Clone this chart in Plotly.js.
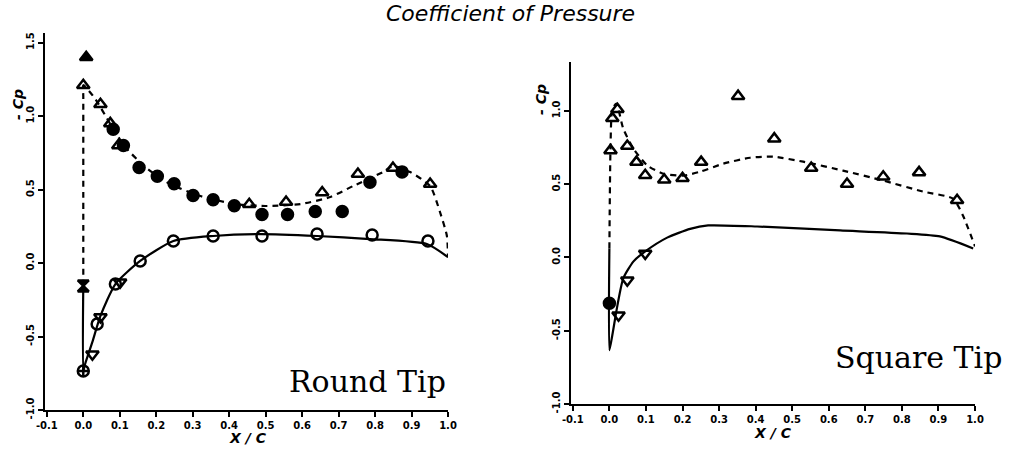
<!DOCTYPE html>
<html><head><meta charset="utf-8">
<script src="https://cdn.plot.ly/plotly-3.0.1.min.js"></script>
<style>body{margin:0;background:#fff}#c{width:1026px;height:456px}</style>
</head><body><div id="c"></div>
<script>
// ---------- Round Tip (left) ----------
const rUpperCurveX = [0,0,0,0.033,0.074,0.115,0.170,0.238,0.321,0.416,0.499,0.595,0.677,0.740,0.822,0.849,0.896,0.951,0.978,0.997,1.0];
const rUpperCurveY = [-0.156,1.136,1.21,1.116,0.946,0.789,0.653,0.537,0.456,0.401,0.388,0.401,0.449,0.524,0.619,0.660,0.619,0.524,0.347,0.184,0.04];
const rLowerCurveX = [0,0,0.005,0.025,0.047,0.088,0.156,0.247,0.356,0.485,0.641,0.786,0.942,1.0];
const rLowerCurveY = [-0.156,-0.735,-0.687,-0.537,-0.36,-0.143,0.014,0.15,0.184,0.197,0.184,0.163,0.129,0.04];
const rTriOpenX = [0.0,0.047,0.074,0.096,0.455,0.556,0.655,0.753,0.849,0.951];
const rTriOpenY = [1.21,1.08,0.95,0.80,0.40,0.415,0.48,0.605,0.646,0.537];
const rTriFilledX = [0.008];
const rTriFilledY = [1.40];
const rDotX = [0.082,0.110,0.153,0.203,0.249,0.301,0.356,0.414,0.49,0.56,0.636,0.71,0.786,0.874];
const rDotY = [0.91,0.80,0.65,0.59,0.54,0.46,0.43,0.39,0.33,0.33,0.35,0.35,0.55,0.62];
const rCircX = [0.038,0.088,0.156,0.247,0.356,0.49,0.641,0.792,0.945];
const rCircY = [-0.415,-0.143,0.014,0.15,0.184,0.184,0.197,0.19,0.15];
const rCrossCircX = [0.0];
const rCrossCircY = [-0.735];
const rTriDownX = [0.025,0.047,0.101];
const rTriDownY = [-0.62,-0.367,-0.13];
const rHourX = [0.0];
const rHourY = [-0.156];

// ---------- Square Tip (right) ----------
const sUpperCurveX = [0,0.003,0.008,0.019,0.038,0.066,0.104,0.148,0.202,0.249,0.311,0.385,0.448,0.530,0.639,0.749,0.858,0.940,0.967,1.0];
const sUpperCurveY = [0.061,0.741,1.01,1.05,0.878,0.741,0.626,0.571,0.558,0.585,0.639,0.680,0.687,0.653,0.592,0.524,0.449,0.401,0.286,0.075];
const sLowerCurveX = [0,0,0.008,0.022,0.038,0.066,0.098,0.158,0.221,0.27,0.404,0.631,0.814,0.904,0.995];
const sLowerCurveY = [0.061,-0.633,-0.531,-0.327,-0.143,-0.027,0.041,0.135,0.195,0.218,0.211,0.184,0.163,0.143,0.061];
const sTriOpenX = [0.022,0.008,0.003,0.049,0.074,0.098,0.15,0.2,0.251,0.352,0.451,0.552,0.65,0.749,0.847,0.951];
const sTriOpenY = [1.01,0.95,0.73,0.76,0.65,0.56,0.53,0.54,0.65,1.10,0.81,0.61,0.50,0.55,0.58,0.39];
const sTriDownX = [0.098,0.049,0.025];
const sTriDownY = [0.027,-0.156,-0.395];
const sDotX = [0.0];
const sDotY = [-0.313];

const xTickVals = [-0.1,0.0,0.1,0.2,0.3,0.4,0.5,0.6,0.7,0.8,0.9,1.0];
const xTickText = ["-0.1","0.0","0.1","0.2","0.3","0.4","0.5","0.6","0.7","0.8","0.9","1.0"];
const yTickValsL = [-1.0,-0.5,0.0,0.5,1.0,1.5];
const yTickTextL = ["-1.0","-0.5","0.0","0.5","1.0","1.5"];
const yTickValsR = [-1.0,-0.5,0.0,0.5,1.0];
const yTickTextR = ["-1.0","-0.5","0.0","0.5","1.0"];

const dashLine = {color:'#000', width:2.2, dash:'6px,5px'};
const solidLine = {color:'#000', width:2.2};
function mk(x,y,sym,xa,ya,filled){
  return {x:x,y:y,xaxis:xa,yaxis:ya,type:'scatter',mode:'markers',showlegend:false,
    marker:{symbol:sym,size:11,color:filled?'#000':'rgba(0,0,0,0)',line:{color:'#000',width:2.5}}};
}
const traces = [
  {x:rUpperCurveX,y:rUpperCurveY,type:'scatter',mode:'lines',line:Object.assign({shape:'spline',smoothing:0.6},dashLine),xaxis:'x',yaxis:'y',showlegend:false},
  {x:rLowerCurveX,y:rLowerCurveY,type:'scatter',mode:'lines',line:Object.assign({shape:'spline',smoothing:0.6},solidLine),xaxis:'x',yaxis:'y',showlegend:false},
  mk(rTriOpenX,rTriOpenY,'triangle-up','x','y',false),
  mk(rTriFilledX,rTriFilledY,'triangle-up','x','y',true),
  mk(rDotX,rDotY,'circle','x','y',true),
  mk(rCircX,rCircY,'circle','x','y',false),
  mk(rCrossCircX,rCrossCircY,'circle-cross','x','y',false),
  mk(rTriDownX,rTriDownY,'triangle-down','x','y',false),
  mk(rHourX,rHourY,'hourglass','x','y',true),
  {x:sUpperCurveX,y:sUpperCurveY,type:'scatter',mode:'lines',line:Object.assign({shape:'spline',smoothing:0.6},dashLine),xaxis:'x2',yaxis:'y2',showlegend:false},
  {x:sLowerCurveX,y:sLowerCurveY,type:'scatter',mode:'lines',line:Object.assign({shape:'spline',smoothing:0.6},solidLine),xaxis:'x2',yaxis:'y2',showlegend:false},
  mk(sTriOpenX,sTriOpenY,'triangle-up','x2','y2',false),
  mk(sTriDownX,sTriDownY,'triangle-down','x2','y2',false),
  mk(sDotX,sDotY,'circle','x2','y2',true)
];
const tickFont = {family:'DejaVu Sans', size:10, color:'#000', weight:'bold'};
function xax(dom){return {domain:dom,range:[-0.105,1.0],tickvals:xTickVals,ticktext:xTickText,ticks:'outside',ticklen:5,tickwidth:2,tickcolor:'#000',showline:true,linewidth:2,linecolor:'#000',showgrid:false,zeroline:false,tickfont:tickFont,fixedrange:true};}
function yax(dom,rng,tv,tt,anchor){return {domain:dom,range:rng,tickvals:tv,ticktext:tt,ticks:'outside',ticklen:5,tickwidth:2,tickcolor:'#000',showline:true,linewidth:2,linecolor:'#000',showgrid:false,zeroline:false,tickfont:tickFont,tickangle:-90,anchor:anchor,fixedrange:true};}
const lblFont = {family:'DejaVu Sans',size:14,color:'#000',weight:'bold',style:'italic'};
const layout = {
  width:1026,height:456,margin:{l:0,r:0,t:0,b:0},paper_bgcolor:'#fff',plot_bgcolor:'rgba(0,0,0,0)',
  xaxis: Object.assign(xax([45/1026,448/1026]),{anchor:'y'}),
  yaxis: yax([1-410/456,1-33/456],[-1.0,1.565],yTickValsL,yTickTextL,'x'),
  xaxis2: Object.assign(xax([571/1026,975/1026]),{anchor:'y2'}),
  yaxis2: yax([1-404/456,1-62/456],[-1.0,1.333],yTickValsR,yTickTextR,'x2'),
  annotations:[
    {text:'Coefficient of Pressure',xref:'paper',yref:'paper',x:510/1026,y:1-14/456,showarrow:false,font:{family:'DejaVu Sans',size:22,color:'#000',style:'italic'},xanchor:'center',yanchor:'middle'},
    {text:'Round Tip',xref:'paper',yref:'paper',x:448/1026,y:1-381/456,showarrow:false,font:{family:'DejaVu Serif',size:30,color:'#000'},xanchor:'right',yanchor:'middle'},
    {text:'Square Tip',xref:'paper',yref:'paper',x:1004/1026,y:1-357/456,showarrow:false,font:{family:'DejaVu Serif',size:30,color:'#000'},xanchor:'right',yanchor:'middle'},
    {text:'- Cp',xref:'paper',yref:'paper',x:18/1026,y:1-105/456,showarrow:false,textangle:-90,font:lblFont,xanchor:'center',yanchor:'middle'},
    {text:'- Cp',xref:'paper',yref:'paper',x:541/1026,y:1-100/456,showarrow:false,textangle:-90,font:lblFont,xanchor:'center',yanchor:'middle'},
    {text:'X / C',xref:'paper',yref:'paper',x:248/1026,y:1-438/456,showarrow:false,font:lblFont,xanchor:'center',yanchor:'middle'},
    {text:'X / C',xref:'paper',yref:'paper',x:773/1026,y:1-433/456,showarrow:false,font:lblFont,xanchor:'center',yanchor:'middle'}
  ]
};
Plotly.newPlot('c',traces,layout,{staticPlot:true,displayModeBar:false});
</script></body></html>
